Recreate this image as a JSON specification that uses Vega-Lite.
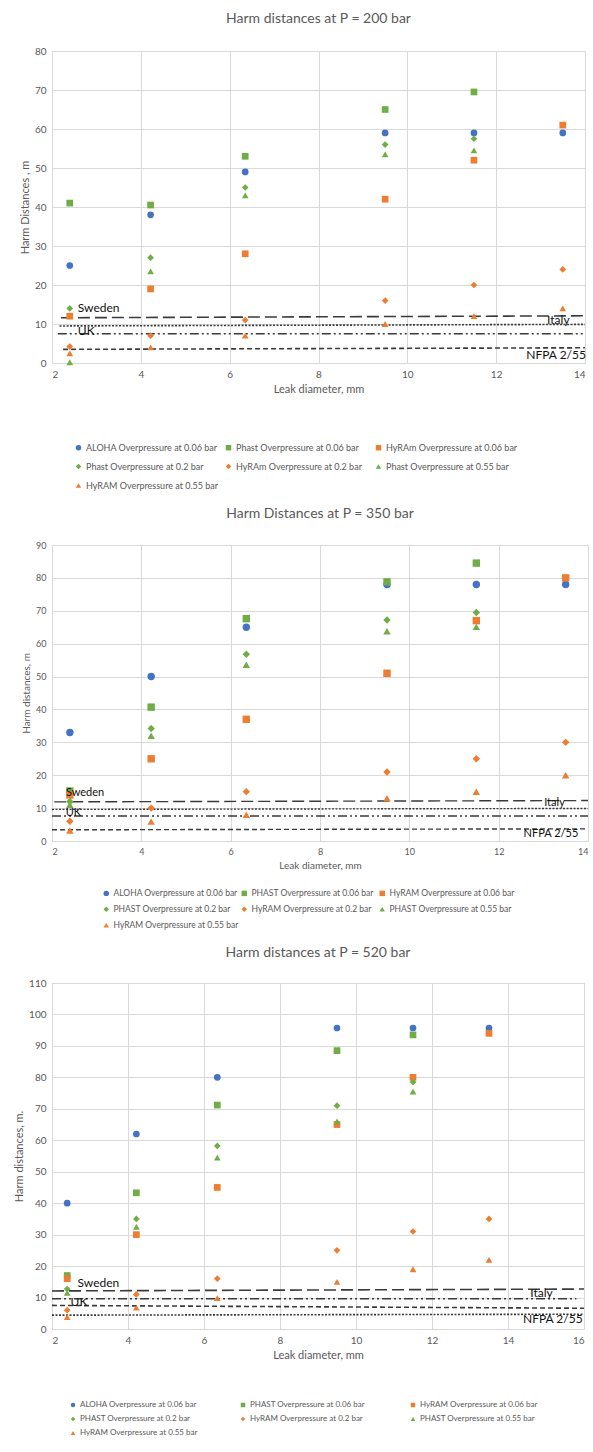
{
  "$schema": "https://vega.github.io/schema/vega-lite/v6.json",
  "background": "white",
  "padding": {"left": 13, "top": 11, "right": 0, "bottom": 0},
  "config": {
    "font": "Lato",
    "view": {"stroke": "#d9d9d9"},
    "axis": {"gridColor": "#d9d9d9", "domainColor": "#d9d9d9", "ticks": false, "labelColor": "#595959", "titleColor": "#595959", "labelFontSize": 10, "titleFontSize": 11, "titleFontWeight": "normal", "labelPadding": 6, "labelOverlap": false},
    "title": {"fontSize": 14, "fontWeight": "normal", "color": "#595959", "offset": 20},
    "legend": {"orient": "none", "direction": "horizontal", "columns": 3, "gridAlign": "all", "title": null, "labelColor": "#595959", "symbolStrokeWidth": 0, "symbolSize": 30, "labelOffset": 3}
  },
  "spacing": 14,
  "resolve": {"scale": {"x": "independent", "y": "independent", "color": "independent", "shape": "independent"}, "legend": {"color": "independent", "shape": "independent"}},
  "datasets": {
    "l200": [
      {"k": "long", "x": 2.2, "x2": 14, "y": 11.6, "y2": 12.1},
      {"k": "dot", "x": 2.17, "x2": 14, "y": 9.5, "y2": 9.9},
      {"k": "dd", "x": 2.13, "x2": 14, "y": 7.5, "y2": 7.5},
      {"k": "short", "x": 2.25, "x2": 14, "y": 3.5, "y2": 3.9}
    ],
    "t200": [
      {"t": "Sweden", "x": 3.05, "y": 14.2},
      {"t": "UK", "x": 2.77, "y": 8.3},
      {"t": "Italy", "x": 13.4, "y": 11.0},
      {"t": "NFPA 2/55", "x": 13.35, "y": 2.0}
    ],
    "p200": [
      {"s": "ALOHA Overpressure at 0.06 bar", "x": 2.4, "y": 25},
      {"s": "ALOHA Overpressure at 0.06 bar", "x": 4.22, "y": 38},
      {"s": "ALOHA Overpressure at 0.06 bar", "x": 6.35, "y": 49},
      {"s": "ALOHA Overpressure at 0.06 bar", "x": 9.5, "y": 59},
      {"s": "ALOHA Overpressure at 0.06 bar", "x": 11.5, "y": 59},
      {"s": "ALOHA Overpressure at 0.06 bar", "x": 13.5, "y": 59},
      {"s": "Phast Overpressure at 0.06 bar", "x": 2.4, "y": 41},
      {"s": "Phast Overpressure at 0.06 bar", "x": 4.22, "y": 40.5},
      {"s": "Phast Overpressure at 0.06 bar", "x": 6.35, "y": 53},
      {"s": "Phast Overpressure at 0.06 bar", "x": 9.5, "y": 65},
      {"s": "Phast Overpressure at 0.06 bar", "x": 11.5, "y": 69.5},
      {"s": "HyRAm Overpressure at 0.06 bar", "x": 2.4, "y": 12},
      {"s": "HyRAm Overpressure at 0.06 bar", "x": 4.22, "y": 19},
      {"s": "HyRAm Overpressure at 0.06 bar", "x": 6.35, "y": 28},
      {"s": "HyRAm Overpressure at 0.06 bar", "x": 9.5, "y": 42},
      {"s": "HyRAm Overpressure at 0.06 bar", "x": 11.5, "y": 52},
      {"s": "HyRAm Overpressure at 0.06 bar", "x": 13.5, "y": 61},
      {"s": "Phast Overpressure at 0.2 bar", "x": 2.4, "y": 14},
      {"s": "Phast Overpressure at 0.2 bar", "x": 4.22, "y": 27},
      {"s": "Phast Overpressure at 0.2 bar", "x": 6.35, "y": 45},
      {"s": "Phast Overpressure at 0.2 bar", "x": 9.5, "y": 56},
      {"s": "Phast Overpressure at 0.2 bar", "x": 11.5, "y": 57.5},
      {"s": "HyRAm Overpressure at 0.2 bar", "x": 2.4, "y": 4.2},
      {"s": "HyRAm Overpressure at 0.2 bar", "x": 4.22, "y": 7},
      {"s": "HyRAm Overpressure at 0.2 bar", "x": 6.35, "y": 11},
      {"s": "HyRAm Overpressure at 0.2 bar", "x": 9.5, "y": 16},
      {"s": "HyRAm Overpressure at 0.2 bar", "x": 11.5, "y": 20},
      {"s": "HyRAm Overpressure at 0.2 bar", "x": 13.5, "y": 24},
      {"s": "Phast Overpressure at 0.55 bar", "x": 2.4, "y": 0.2},
      {"s": "Phast Overpressure at 0.55 bar", "x": 4.22, "y": 23.5},
      {"s": "Phast Overpressure at 0.55 bar", "x": 6.35, "y": 43},
      {"s": "Phast Overpressure at 0.55 bar", "x": 9.5, "y": 53.5},
      {"s": "Phast Overpressure at 0.55 bar", "x": 11.5, "y": 54.5},
      {"s": "HyRAM Overpressure at 0.55 bar", "x": 2.4, "y": 2.5},
      {"s": "HyRAM Overpressure at 0.55 bar", "x": 4.22, "y": 4},
      {"s": "HyRAM Overpressure at 0.55 bar", "x": 6.35, "y": 7},
      {"s": "HyRAM Overpressure at 0.55 bar", "x": 9.5, "y": 10},
      {"s": "HyRAM Overpressure at 0.55 bar", "x": 11.5, "y": 12},
      {"s": "HyRAM Overpressure at 0.55 bar", "x": 13.5, "y": 14}
    ],
    "l350": [
      {"k": "long", "x": 2.05, "x2": 14, "y": 11.9, "y2": 12.3},
      {"k": "dot", "x": 2.0, "x2": 14, "y": 9.6, "y2": 9.9},
      {"k": "dd", "x": 2.0, "x2": 14, "y": 7.6, "y2": 7.6},
      {"k": "short", "x": 2.0, "x2": 14, "y": 3.4, "y2": 3.7}
    ],
    "t350": [
      {"t": "Sweden", "x": 2.74, "y": 14.6},
      {"t": "UK", "x": 2.48, "y": 8.5},
      {"t": "Italy", "x": 13.25, "y": 11.5},
      {"t": "NFPA 2/55", "x": 13.17, "y": 2.0}
    ],
    "p350": [
      {"s": "ALOHA Overpressure at 0.06 bar", "x": 2.4, "y": 33},
      {"s": "ALOHA Overpressure at 0.06 bar", "x": 4.22, "y": 50},
      {"s": "ALOHA Overpressure at 0.06 bar", "x": 6.35, "y": 65},
      {"s": "ALOHA Overpressure at 0.06 bar", "x": 9.5, "y": 78},
      {"s": "ALOHA Overpressure at 0.06 bar", "x": 11.5, "y": 78},
      {"s": "ALOHA Overpressure at 0.06 bar", "x": 13.5, "y": 78},
      {"s": "PHAST Overpressure at 0.06 bar", "x": 2.4, "y": 15.2},
      {"s": "PHAST Overpressure at 0.06 bar", "x": 4.22, "y": 40.7},
      {"s": "PHAST Overpressure at 0.06 bar", "x": 6.35, "y": 67.6},
      {"s": "PHAST Overpressure at 0.06 bar", "x": 9.5, "y": 78.8},
      {"s": "PHAST Overpressure at 0.06 bar", "x": 11.5, "y": 84.5},
      {"s": "HyRAM Overpressure at 0.06 bar", "x": 2.4, "y": 14},
      {"s": "HyRAM Overpressure at 0.06 bar", "x": 4.22, "y": 25},
      {"s": "HyRAM Overpressure at 0.06 bar", "x": 6.35, "y": 37},
      {"s": "HyRAM Overpressure at 0.06 bar", "x": 9.5, "y": 51},
      {"s": "HyRAM Overpressure at 0.06 bar", "x": 11.5, "y": 67},
      {"s": "HyRAM Overpressure at 0.06 bar", "x": 13.5, "y": 80},
      {"s": "PHAST Overpressure at 0.2 bar", "x": 2.4, "y": 12},
      {"s": "PHAST Overpressure at 0.2 bar", "x": 4.22, "y": 34.2},
      {"s": "PHAST Overpressure at 0.2 bar", "x": 6.35, "y": 56.8},
      {"s": "PHAST Overpressure at 0.2 bar", "x": 9.5, "y": 67.2},
      {"s": "PHAST Overpressure at 0.2 bar", "x": 11.5, "y": 69.5},
      {"s": "HyRAM Overpressure at 0.2 bar", "x": 2.4, "y": 6},
      {"s": "HyRAM Overpressure at 0.2 bar", "x": 4.22, "y": 10},
      {"s": "HyRAM Overpressure at 0.2 bar", "x": 6.35, "y": 15},
      {"s": "HyRAM Overpressure at 0.2 bar", "x": 9.5, "y": 21},
      {"s": "HyRAM Overpressure at 0.2 bar", "x": 11.5, "y": 25},
      {"s": "HyRAM Overpressure at 0.2 bar", "x": 13.5, "y": 30},
      {"s": "PHAST Overpressure at 0.55 bar", "x": 2.4, "y": 11},
      {"s": "PHAST Overpressure at 0.55 bar", "x": 4.22, "y": 32},
      {"s": "PHAST Overpressure at 0.55 bar", "x": 6.35, "y": 53.6},
      {"s": "PHAST Overpressure at 0.55 bar", "x": 9.5, "y": 63.8},
      {"s": "PHAST Overpressure at 0.55 bar", "x": 11.5, "y": 65.1},
      {"s": "HyRAM Overpressure at 0.55 bar", "x": 2.4, "y": 3.2},
      {"s": "HyRAM Overpressure at 0.55 bar", "x": 4.22, "y": 5.9},
      {"s": "HyRAM Overpressure at 0.55 bar", "x": 6.35, "y": 8},
      {"s": "HyRAM Overpressure at 0.55 bar", "x": 9.5, "y": 13},
      {"s": "HyRAM Overpressure at 0.55 bar", "x": 11.5, "y": 15},
      {"s": "HyRAM Overpressure at 0.55 bar", "x": 13.5, "y": 20}
    ],
    "l520": [
      {"k": "long", "x": 2.0, "x2": 16, "y": 12.1, "y2": 12.7},
      {"k": "dd", "x": 2.0, "x2": 15.8, "y": 9.6, "y2": 9.6},
      {"k": "short", "x": 2.0, "x2": 16, "y": 7.5, "y2": 6.6},
      {"k": "dot", "x": 2.0, "x2": 16, "y": 4.4, "y2": 4.7}
    ],
    "t520": [
      {"t": "Sweden", "x": 3.22, "y": 14.6},
      {"t": "UK", "x": 2.71, "y": 8.6},
      {"t": "Italy", "x": 14.88, "y": 11.6},
      {"t": "NFPA 2/55", "x": 15.18, "y": 3.2}
    ],
    "p520": [
      {"s": "ALOHA Overpressure at 0.06 bar", "x": 2.4, "y": 40},
      {"s": "ALOHA Overpressure at 0.06 bar", "x": 4.22, "y": 62},
      {"s": "ALOHA Overpressure at 0.06 bar", "x": 6.35, "y": 80},
      {"s": "ALOHA Overpressure at 0.06 bar", "x": 9.5, "y": 95.7},
      {"s": "ALOHA Overpressure at 0.06 bar", "x": 11.5, "y": 95.7},
      {"s": "ALOHA Overpressure at 0.06 bar", "x": 13.5, "y": 95.7},
      {"s": "PHAST Overpressure at 0.06 bar", "x": 2.4, "y": 17},
      {"s": "PHAST Overpressure at 0.06 bar", "x": 4.22, "y": 43.3},
      {"s": "PHAST Overpressure at 0.06 bar", "x": 6.35, "y": 71.2},
      {"s": "PHAST Overpressure at 0.06 bar", "x": 9.5, "y": 88.5},
      {"s": "PHAST Overpressure at 0.06 bar", "x": 11.5, "y": 93.5},
      {"s": "HyRAM Overpressure at 0.06 bar", "x": 2.4, "y": 16},
      {"s": "HyRAM Overpressure at 0.06 bar", "x": 4.22, "y": 30},
      {"s": "HyRAM Overpressure at 0.06 bar", "x": 6.35, "y": 45},
      {"s": "HyRAM Overpressure at 0.06 bar", "x": 9.5, "y": 65},
      {"s": "HyRAM Overpressure at 0.06 bar", "x": 11.5, "y": 80},
      {"s": "HyRAM Overpressure at 0.06 bar", "x": 13.5, "y": 94},
      {"s": "PHAST Overpressure at  0.2 bar", "x": 2.4, "y": 12.7},
      {"s": "PHAST Overpressure at  0.2 bar", "x": 4.22, "y": 35},
      {"s": "PHAST Overpressure at  0.2 bar", "x": 6.35, "y": 58.2},
      {"s": "PHAST Overpressure at  0.2 bar", "x": 9.5, "y": 71},
      {"s": "PHAST Overpressure at  0.2 bar", "x": 11.5, "y": 78.5},
      {"s": "HyRAM Overpressure at 0.2 bar", "x": 2.4, "y": 6},
      {"s": "HyRAM Overpressure at 0.2 bar", "x": 4.22, "y": 11},
      {"s": "HyRAM Overpressure at 0.2 bar", "x": 6.35, "y": 16},
      {"s": "HyRAM Overpressure at 0.2 bar", "x": 9.5, "y": 25},
      {"s": "HyRAM Overpressure at 0.2 bar", "x": 11.5, "y": 31},
      {"s": "HyRAM Overpressure at 0.2 bar", "x": 13.5, "y": 35},
      {"s": "PHAST Overpressure at 0.55 bar", "x": 2.4, "y": 11.5},
      {"s": "PHAST Overpressure at 0.55 bar", "x": 4.22, "y": 32.5},
      {"s": "PHAST Overpressure at 0.55 bar", "x": 6.35, "y": 54.5},
      {"s": "PHAST Overpressure at 0.55 bar", "x": 9.5, "y": 66},
      {"s": "PHAST Overpressure at 0.55 bar", "x": 11.5, "y": 75.5},
      {"s": "HyRAM Overpressure at 0.55 bar", "x": 2.4, "y": 3.8},
      {"s": "HyRAM Overpressure at 0.55 bar", "x": 4.22, "y": 6.8},
      {"s": "HyRAM Overpressure at 0.55 bar", "x": 6.35, "y": 9.8},
      {"s": "HyRAM Overpressure at 0.55 bar", "x": 9.5, "y": 15},
      {"s": "HyRAM Overpressure at 0.55 bar", "x": 11.5, "y": 19},
      {"s": "HyRAM Overpressure at 0.55 bar", "x": 13.5, "y": 22}
    ]
  },
  "vconcat": [
    {
      "title": "Harm distances at P = 200 bar",
      "width": 533,
      "height": 312,
      "encoding": {
        "x": {"field": "x", "type": "quantitative", "scale": {"domain": [2, 14]}, "axis": {"values": [2, 4, 6, 8, 10, 12, 14], "title": "Leak diameter, mm"}},
        "y": {"field": "y", "type": "quantitative", "scale": {"domain": [0, 80]}, "axis": {"values": [0, 10, 20, 30, 40, 50, 60, 70, 80], "title": "Harm Distances , m"}}
      },
      "layer": [
        {
          "data": {"name": "l200"},
          "mark": {"type": "rule", "color": "#3a3a3a", "strokeWidth": 1.6},
          "encoding": {
            "x2": {"field": "x2"},
            "y2": {"field": "y2"},
            "strokeDash": {"field": "k", "type": "nominal", "scale": {"domain": ["long", "dot", "dd", "short"], "range": [[12, 5], [2, 1.5], [9, 3, 2, 3, 2, 3], [5, 3]]}, "legend": null}
          }
        },
        {
          "data": {"name": "p200"},
          "mark": {"type": "point", "filled": true, "size": 45, "opacity": 1},
          "encoding": {
            "color": {"field": "s", "type": "nominal", "sort": null, "scale": {"domain": ["ALOHA Overpressure at 0.06 bar", "Phast Overpressure at 0.06 bar", "HyRAm Overpressure at 0.06 bar", "Phast Overpressure at 0.2 bar", "HyRAm Overpressure at 0.2 bar", "Phast Overpressure at 0.55 bar", "HyRAM Overpressure at 0.55 bar"], "range": ["#4472C4", "#70AD47", "#ED7D31", "#70AD47", "#ED7D31", "#70AD47", "#ED7D31"]}, "legend": {"values": ["ALOHA Overpressure at 0.06 bar", "Phast Overpressure at 0.06 bar", "HyRAm Overpressure at 0.06 bar", "Phast Overpressure at 0.2 bar", "HyRAm Overpressure at 0.2 bar", "Phast Overpressure at 0.55 bar", "HyRAM Overpressure at 0.55 bar"], "legendX": 22, "legendY": 392, "labelFontSize": 9, "rowPadding": 9, "columnPadding": 5}},
            "shape": {"field": "s", "type": "nominal", "sort": null, "scale": {"domain": ["ALOHA Overpressure at 0.06 bar", "Phast Overpressure at 0.06 bar", "HyRAm Overpressure at 0.06 bar", "Phast Overpressure at 0.2 bar", "HyRAm Overpressure at 0.2 bar", "Phast Overpressure at 0.55 bar", "HyRAM Overpressure at 0.55 bar"], "range": ["circle", "square", "square", "diamond", "diamond", "triangle-up", "triangle-up"]}}
          }
        },
        {
          "data": {"name": "t200"},
          "mark": {"type": "text", "fontSize": 12, "color": "#111111"},
          "encoding": {"text": {"field": "t"}}
        }
      ]
    },
    {
      "title": "Harm Distances at P = 350 bar",
      "width": 536,
      "height": 296,
      "encoding": {
        "x": {"field": "x", "type": "quantitative", "scale": {"domain": [2, 14]}, "axis": {"values": [2, 4, 6, 8, 10, 12, 14], "title": "Leak diameter, mm", "labelFontSize": 9, "titleFontSize": 10}},
        "y": {"field": "y", "type": "quantitative", "scale": {"domain": [0, 90]}, "axis": {"values": [0, 10, 20, 30, 40, 50, 60, 70, 80, 90], "title": "Harm distances, m", "labelFontSize": 9, "titleFontSize": 10}}
      },
      "layer": [
        {
          "data": {"name": "l350"},
          "mark": {"type": "rule", "color": "#3a3a3a", "strokeWidth": 1.4},
          "encoding": {
            "x2": {"field": "x2"},
            "y2": {"field": "y2"},
            "strokeDash": {"field": "k", "type": "nominal", "scale": {"domain": ["long", "dot", "dd", "short"], "range": [[12, 5], [2, 1.5], [9, 3, 2, 3, 2, 3], [5, 3]]}, "legend": null}
          }
        },
        {
          "data": {"name": "p350"},
          "mark": {"type": "point", "filled": true, "size": 55, "opacity": 1},
          "encoding": {
            "color": {"field": "s", "type": "nominal", "sort": null, "scale": {"domain": ["ALOHA Overpressure at 0.06 bar", "PHAST Overpressure at 0.06 bar", "HyRAM Overpressure at 0.06 bar", "PHAST Overpressure at 0.2 bar", "HyRAM Overpressure at 0.2 bar", "PHAST Overpressure at 0.55 bar", "HyRAM Overpressure at 0.55 bar"], "range": ["#4472C4", "#70AD47", "#ED7D31", "#70AD47", "#ED7D31", "#70AD47", "#ED7D31"]}, "legend": {"values": ["ALOHA Overpressure at 0.06 bar", "PHAST Overpressure at 0.06 bar", "HyRAM Overpressure at 0.06 bar", "PHAST Overpressure at 0.2 bar", "HyRAM Overpressure at 0.2 bar", "PHAST Overpressure at 0.55 bar", "HyRAM Overpressure at 0.55 bar"], "legendX": 50, "legendY": 344, "labelFontSize": 8.5, "rowPadding": 7, "columnPadding": 1}},
            "shape": {"field": "s", "type": "nominal", "sort": null, "scale": {"domain": ["ALOHA Overpressure at 0.06 bar", "PHAST Overpressure at 0.06 bar", "HyRAM Overpressure at 0.06 bar", "PHAST Overpressure at 0.2 bar", "HyRAM Overpressure at 0.2 bar", "PHAST Overpressure at 0.55 bar", "HyRAM Overpressure at 0.55 bar"], "range": ["circle", "square", "square", "diamond", "diamond", "triangle-up", "triangle-up"]}}
          }
        },
        {
          "data": {"name": "t350"},
          "mark": {"type": "text", "fontSize": 11, "color": "#111111"},
          "encoding": {"text": {"field": "t"}}
        }
      ]
    },
    {
      "title": {"text": "Harm distances at P = 520 bar", "offset": 18},
      "width": 532,
      "height": 346,
      "encoding": {
        "x": {"field": "x", "type": "quantitative", "scale": {"domain": [2, 16]}, "axis": {"values": [2, 4, 6, 8, 10, 12, 14, 16], "title": "Leak diameter, mm"}},
        "y": {"field": "y", "type": "quantitative", "scale": {"domain": [0, 110]}, "axis": {"values": [0, 10, 20, 30, 40, 50, 60, 70, 80, 90, 100, 110], "title": "Harm distances, m."}}
      },
      "layer": [
        {
          "data": {"name": "l520"},
          "mark": {"type": "rule", "color": "#3a3a3a", "strokeWidth": 1.6},
          "encoding": {
            "x2": {"field": "x2"},
            "y2": {"field": "y2"},
            "strokeDash": {"field": "k", "type": "nominal", "scale": {"domain": ["long", "dot", "dd", "short"], "range": [[12, 5], [2, 1.5], [9, 3, 2, 3, 2, 3], [5, 3]]}, "legend": null}
          }
        },
        {
          "data": {"name": "p520"},
          "mark": {"type": "point", "filled": true, "size": 45, "opacity": 1},
          "encoding": {
            "color": {"field": "s", "type": "nominal", "sort": null, "scale": {"domain": ["ALOHA Overpressure at 0.06 bar", "PHAST Overpressure at 0.06 bar", "HyRAM Overpressure at 0.06 bar", "PHAST Overpressure at  0.2 bar", "HyRAM Overpressure at 0.2 bar", "PHAST Overpressure at 0.55 bar", "HyRAM Overpressure at 0.55 bar"], "range": ["#4472C4", "#70AD47", "#ED7D31", "#70AD47", "#ED7D31", "#70AD47", "#ED7D31"]}, "legend": {"values": ["ALOHA Overpressure at 0.06 bar", "PHAST Overpressure at 0.06 bar", "HyRAM Overpressure at 0.06 bar", "PHAST Overpressure at  0.2 bar", "HyRAM Overpressure at 0.2 bar", "PHAST Overpressure at 0.55 bar", "HyRAM Overpressure at 0.55 bar"], "legendX": 17, "legendY": 418, "labelFontSize": 8, "rowPadding": 6, "columnPadding": 41, "symbolSize": 20}},
            "shape": {"field": "s", "type": "nominal", "sort": null, "scale": {"domain": ["ALOHA Overpressure at 0.06 bar", "PHAST Overpressure at 0.06 bar", "HyRAM Overpressure at 0.06 bar", "PHAST Overpressure at  0.2 bar", "HyRAM Overpressure at 0.2 bar", "PHAST Overpressure at 0.55 bar", "HyRAM Overpressure at 0.55 bar"], "range": ["circle", "square", "square", "diamond", "diamond", "triangle-up", "triangle-up"]}}
          }
        },
        {
          "data": {"name": "t520"},
          "mark": {"type": "text", "fontSize": 12, "color": "#111111"},
          "encoding": {"text": {"field": "t"}}
        }
      ]
    }
  ]
}
